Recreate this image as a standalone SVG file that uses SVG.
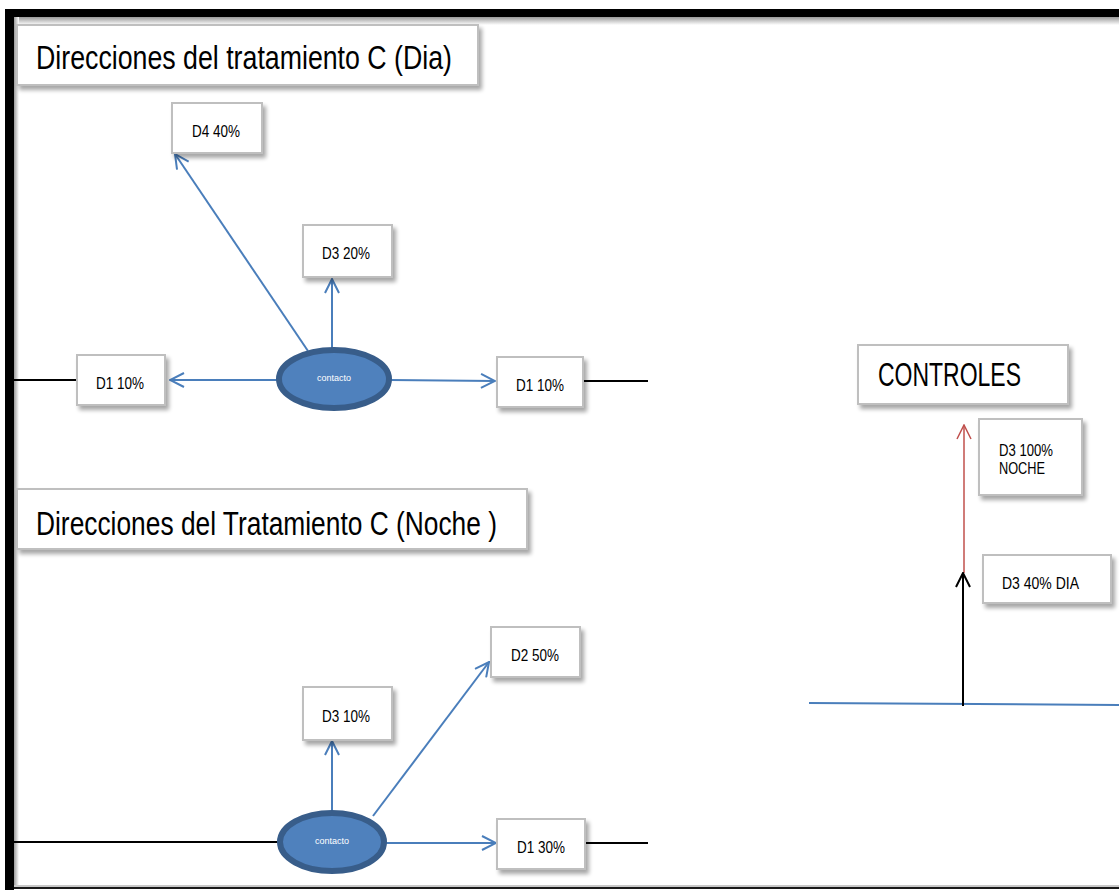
<svg xmlns="http://www.w3.org/2000/svg" width="1119" height="893" viewBox="0 0 1119 893">
  <style>
    .box { fill: #ffffff; stroke: #bfbfbf; stroke-width: 2; filter: url(#shadow); }
    .title { font-family: "Liberation Sans", Arial, sans-serif; font-size: 33px; fill: #000000; }
    .lbl { font-family: "Liberation Sans", Arial, sans-serif; font-size: 16px; fill: #000000; }
    .blue { stroke: #4a7ebb; stroke-width: 2; fill: none; }
    .blk { stroke: #000000; stroke-width: 2; fill: none; }
    .red { stroke: #c0504d; stroke-width: 1.5; fill: none; }
    .oval { fill: #4f81bd; stroke: #385d8a; stroke-width: 6; }
    .oval-t { font-family: "Liberation Sans", Arial, sans-serif; font-size: 9px; fill: #ffffff; }
  </style>
  <defs>
    <filter id="shadow" x="-10%" y="-10%" width="130%" height="140%">
      <feGaussianBlur in="SourceAlpha" stdDeviation="2"/>
      <feOffset dx="3" dy="4" result="off"/>
      <feComponentTransfer><feFuncA type="linear" slope="0.35"/></feComponentTransfer>
      <feMerge><feMergeNode/><feMergeNode in="SourceGraphic"/></feMerge>
    </filter>
    <linearGradient id="topfade" x1="0" y1="0" x2="0" y2="1">
      <stop offset="0" stop-color="#9a9a9a"/>
      <stop offset="1" stop-color="#ffffff"/>
    </linearGradient>
    <linearGradient id="leftfade" x1="0" y1="0" x2="1" y2="0">
      <stop offset="0" stop-color="#9a9a9a"/>
      <stop offset="1" stop-color="#ffffff"/>
    </linearGradient>
    <marker id="ab" viewBox="0 0 16 16" refX="15" refY="8" markerWidth="16" markerHeight="16" markerUnits="userSpaceOnUse" orient="auto">
      <path d="M1,1 L15,8 L1,15" stroke="#4a7ebb" stroke-width="2" fill="none"/>
    </marker>
    <marker id="ak" viewBox="0 0 16 16" refX="15" refY="8" markerWidth="16" markerHeight="16" markerUnits="userSpaceOnUse" orient="auto">
      <path d="M1,1 L15,8 L1,15" stroke="#000000" stroke-width="2" fill="none"/>
    </marker>
    <marker id="ar" viewBox="0 0 16 16" refX="15" refY="8" markerWidth="16" markerHeight="16" markerUnits="userSpaceOnUse" orient="auto">
      <path d="M1,1 L15,8 L1,15" stroke="#c0504d" stroke-width="1.5" fill="none"/>
    </marker>
  </defs>

  <rect width="1119" height="893" fill="#ffffff"/>

  <!-- frame -->
  <g id="frame">
    <rect x="14" y="17" width="1105" height="8" fill="url(#topfade)"/>
    <rect x="14" y="17" width="5" height="871" fill="url(#leftfade)"/>
    <rect x="5" y="9" width="1114" height="8" fill="#000000"/>
    <rect x="5" y="9" width="9" height="881" fill="#000000"/>
    <rect x="14" y="885" width="1105" height="2" fill="#c8c8c8"/>
    <rect x="14" y="887" width="1105" height="2" fill="#1a1a1a"/>
  </g>

  <!-- connectors -->
  <g id="connectors">
    <!-- day -->
    <line class="blk" x1="14" y1="380" x2="78" y2="380"/>
    <line class="blk" x1="583" y1="381" x2="648" y2="381"/>
    <line class="blue" x1="279" y1="380" x2="170" y2="380" marker-end="url(#ab)"/>
    <line class="blue" x1="390" y1="380" x2="495" y2="381" marker-end="url(#ab)"/>
    <line class="blue" x1="332" y1="350" x2="332" y2="279" marker-end="url(#ab)"/>
    <line class="blue" x1="308" y1="351" x2="175" y2="154" marker-end="url(#ab)"/>
    <!-- night -->
    <line class="blk" x1="14" y1="842" x2="280" y2="842"/>
    <line class="blk" x1="585" y1="843" x2="648" y2="843"/>
    <line class="blue" x1="384" y1="843" x2="496" y2="843" marker-end="url(#ab)"/>
    <line class="blue" x1="332" y1="813" x2="332" y2="741" marker-end="url(#ab)"/>
    <line class="blue" x1="373" y1="816" x2="489" y2="662" marker-end="url(#ab)"/>
    <!-- controls -->
    <line x1="809" y1="703" x2="1119" y2="705" stroke="#4a7ebb" stroke-width="2"/>
    <line class="red" x1="964" y1="573" x2="964" y2="425" marker-end="url(#ar)"/>
    <line class="blk" x1="963" y1="706" x2="963" y2="573" marker-end="url(#ak)"/>
  </g>

  <!-- titles -->
  <g id="title-dia">
    <rect class="box" x="17" y="25" width="461" height="60"/>
    <text class="title" x="36" y="69" textLength="416" lengthAdjust="spacingAndGlyphs">Direcciones del tratamiento C (Dia)</text>
  </g>
  <g id="title-noche">
    <rect class="box" x="17" y="489" width="510" height="60"/>
    <text class="title" x="36" y="535" textLength="461" lengthAdjust="spacingAndGlyphs">Direcciones del Tratamiento C (Noche )</text>
  </g>
  <g id="title-controles">
    <rect class="box" x="858" y="345" width="210" height="59"/>
    <text class="title" x="878" y="386" font-size="31" textLength="143" lengthAdjust="spacingAndGlyphs">CONTROLES</text>
  </g>

  <!-- day nodes -->
  <g id="d4-40">
    <rect class="box" x="172" y="103" width="90" height="50"/>
    <text class="lbl" x="216" y="137" text-anchor="middle" textLength="48" lengthAdjust="spacingAndGlyphs">D4 40%</text>
  </g>
  <g id="d3-20">
    <rect class="box" x="303" y="225" width="89" height="52"/>
    <text class="lbl" x="346" y="259" text-anchor="middle" textLength="48" lengthAdjust="spacingAndGlyphs">D3 20%</text>
  </g>
  <g id="d1-10-left">
    <rect class="box" x="77" y="355" width="88" height="50"/>
    <text class="lbl" x="120" y="389" text-anchor="middle" textLength="48" lengthAdjust="spacingAndGlyphs">D1 10%</text>
  </g>
  <g id="d1-10-right">
    <rect class="box" x="497" y="357" width="86" height="50"/>
    <text class="lbl" x="540" y="391" text-anchor="middle" textLength="48" lengthAdjust="spacingAndGlyphs">D1 10%</text>
  </g>
  <g id="contacto-dia">
    <ellipse class="oval" cx="334" cy="379" rx="55" ry="29"/>
    <text class="oval-t" x="334" y="381" text-anchor="middle">contacto</text>
  </g>

  <!-- night nodes -->
  <g id="d2-50">
    <rect class="box" x="491" y="627" width="89" height="50"/>
    <text class="lbl" x="535" y="661" text-anchor="middle" textLength="48" lengthAdjust="spacingAndGlyphs">D2 50%</text>
  </g>
  <g id="d3-10">
    <rect class="box" x="303" y="687" width="89" height="53"/>
    <text class="lbl" x="346" y="722" text-anchor="middle" textLength="48" lengthAdjust="spacingAndGlyphs">D3 10%</text>
  </g>
  <g id="d1-30">
    <rect class="box" x="497" y="819" width="88" height="50"/>
    <text class="lbl" x="541" y="853" text-anchor="middle" textLength="48" lengthAdjust="spacingAndGlyphs">D1 30%</text>
  </g>
  <g id="contacto-noche">
    <ellipse class="oval" cx="332" cy="842" rx="52" ry="29"/>
    <text class="oval-t" x="332" y="844" text-anchor="middle">contacto</text>
  </g>

  <!-- control nodes -->
  <g id="d3-100-noche">
    <rect class="box" x="979" y="419" width="103" height="76"/>
    <text class="lbl" x="999" y="456" font-size="15" textLength="54" lengthAdjust="spacingAndGlyphs">D3 100%</text>
    <text class="lbl" x="999" y="474" font-size="15" textLength="46" lengthAdjust="spacingAndGlyphs">NOCHE</text>
  </g>
  <g id="d3-40-dia">
    <rect class="box" x="983" y="555" width="128" height="48"/>
    <text class="lbl" x="1002" y="589" textLength="77" lengthAdjust="spacingAndGlyphs">D3 40% DIA</text>
  </g>
</svg>
